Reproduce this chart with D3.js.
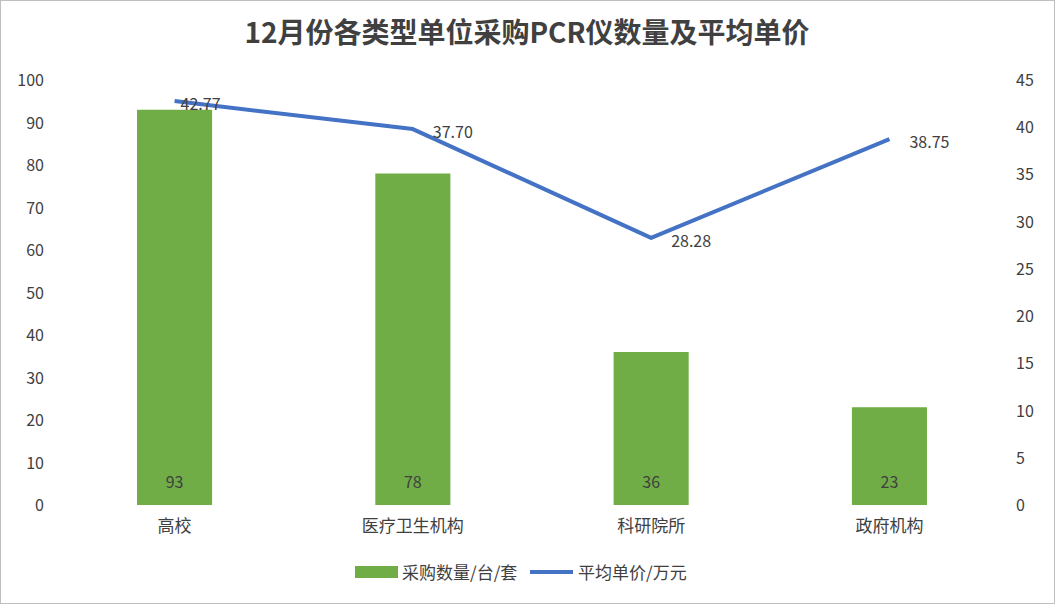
<!DOCTYPE html>
<html><head><meta charset="utf-8">
<script src="https://cdn.jsdelivr.net/npm/d3@7"></script>
<style>body{margin:0;background:#fff}text{font-family:"Noto Sans CJK SC","Noto Sans",sans-serif}</style>
</head><body><svg id="c" width="1055" height="604"></svg>
<script>
var categories = ["高校", "医疗卫生机构", "科研院所", "政府机构"];
var counts = [93, 78, 36, 23];
// plotted positions; printed labels as shown
var prices = [42.77, 39.8, 28.28, 38.75];
var priceLabels = ["42.77", "37.70", "28.28", "38.75"];
var leftTicks = [0, 10, 20, 30, 40, 50, 60, 70, 80, 90, 100];
var rightTicks = [0, 5, 10, 15, 20, 25, 30, 35, 40, 45];

var svg = d3.select("#c");
svg.append("rect").attr("x", 0.5).attr("y", 0.5).attr("width", 1054).attr("height", 603)
    .attr("fill", "#fff").attr("stroke", "#bfbfbf");

var x = d3.scaleBand().domain(categories).range([56, 1008]).paddingInner(0.685).paddingOuter(0.34);
var yL = d3.scaleLinear().domain([0, 100]).range([505, 80]);
var yR = d3.scaleLinear().domain([0, 45]).range([505, 80]);

svg.append("text").attr("x", 527).attr("y", 43).attr("text-anchor", "middle")
    .attr("font-size", 28).attr("font-weight", "bold").attr("fill", "#404040")
    .text("12月份各类型单位采购PCR仪数量及平均单价");

svg.selectAll(".lt").data(leftTicks).enter().append("text")
    .attr("x", 44).attr("y", function(d) { return yL(d) + 6; })
    .attr("text-anchor", "end").attr("font-size", 16).attr("fill", "#404040").text(function(d) { return d; });
svg.selectAll(".rt").data(rightTicks).enter().append("text")
    .attr("x", 1016).attr("y", function(d) { return yR(d) + 6; })
    .attr("font-size", 16).attr("fill", "#404040").text(function(d) { return d; });
svg.selectAll(".ct").data(categories).enter().append("text")
    .attr("x", function(d) { return x(d) + x.bandwidth() / 2; }).attr("y", 532)
    .attr("text-anchor", "middle").attr("font-size", 17).attr("fill", "#404040").text(function(d) { return d; });

svg.selectAll(".bar").data(counts).enter().append("rect")
    .attr("x", function(d, i) { return x(categories[i]); })
    .attr("y", function(d) { return yL(d); })
    .attr("width", x.bandwidth())
    .attr("height", function(d) { return yL(0) - yL(d); })
    .attr("fill", "#70ad47");
svg.selectAll(".bl").data(counts).enter().append("text")
    .attr("x", function(d, i) { return x(categories[i]) + x.bandwidth() / 2; }).attr("y", 488)
    .attr("text-anchor", "middle").attr("font-size", 16).attr("fill", "#404040").text(function(d) { return d; });

var cx = function(d, i) { return x(categories[i]) + x.bandwidth() / 2; };
svg.append("path").datum(prices)
    .attr("d", d3.line().x(cx).y(function(d) { return yR(d); }))
    .attr("fill", "none").attr("stroke", "#4472c4").attr("stroke-width", 4).attr("stroke-linejoin", "round");
svg.selectAll(".pl").data(prices).enter().append("text")
    .attr("x", function(d, i) { return cx(d, i) + (i == 0 ? 6 : 20); })
    .attr("y", function(d) { return yR(d) + 9; })
    .attr("font-size", 16).attr("fill", "#404040").text(function(d, i) { return priceLabels[i]; });

svg.append("rect").attr("x", 355).attr("y", 566).attr("width", 43).attr("height", 12).attr("fill", "#70ad47");
svg.append("text").attr("x", 402).attr("y", 579).attr("font-size", 17).attr("fill", "#404040").text("采购数量/台/套");
svg.append("line").attr("x1", 530).attr("x2", 573).attr("y1", 572).attr("y2", 572)
    .attr("stroke", "#4472c4").attr("stroke-width", 4);
svg.append("text").attr("x", 578).attr("y", 579).attr("font-size", 17).attr("fill", "#404040").text("平均单价/万元");
</script></body></html>
